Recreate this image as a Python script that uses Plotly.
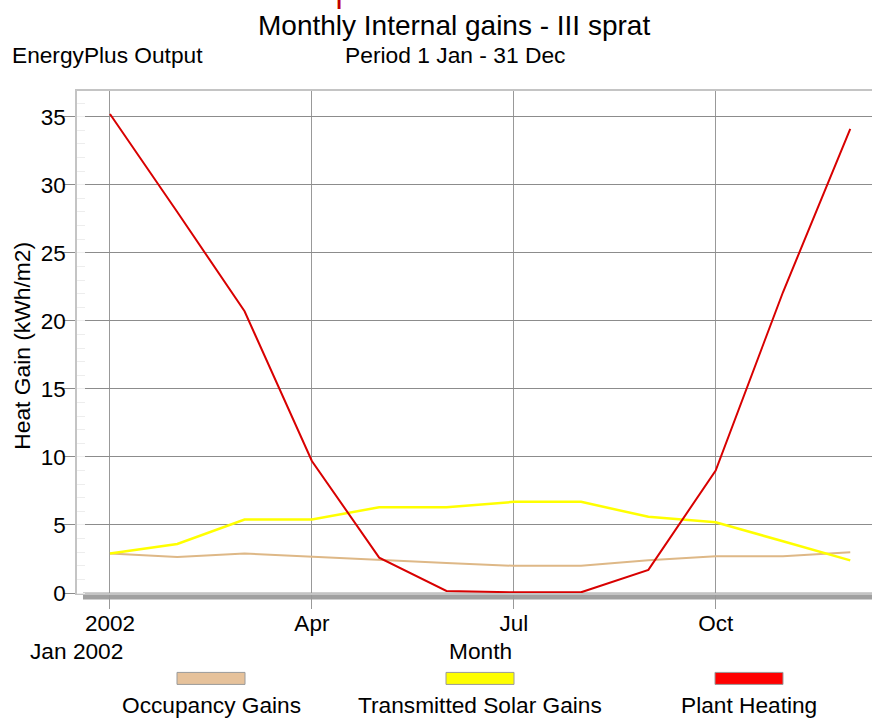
import plotly.graph_objects as go

# ---- data ----
months = ["Jan", "Feb", "Mar", "Apr", "May", "Jun", "Jul", "Aug", "Sep", "Oct", "Nov", "Dec"]
tick_months = ["Jan", "Apr", "Jul", "Oct"]
tick_labels = ["2002", "Apr", "Jul", "Oct"]
series_names = ["Occupancy Gains", "Transmitted Solar Gains", "Plant Heating"]
occupancy = [2.9, 2.65, 2.9, 2.65, 2.4, 2.2, 2.0, 2.0, 2.4, 2.7, 2.7, 3.0]
solar = [2.9, 3.6, 5.4, 5.4, 6.3, 6.3, 6.7, 6.7, 5.6, 5.2, 3.8, 2.4]
heating = [35.2, 28.0, 20.7, 9.7, 2.6, 0.15, 0.05, 0.05, 1.7, 9.0, 22.1, 34.1]

line_colors = ["#DEB887", "#FFFF00", "#D80000"]
legend_colors = ["#E6C29B", "#FFFF00", "#FF0000"]
line_widths = [2, 2.5, 2]

# ---- layout geometry ----
W, H = 872, 719
L, R, T, B = 77, 0, 91, 125.5
PW, PH = W - L - R, H - T - B
FONT = "Liberation Sans, Arial, sans-serif"


def px(x):
    return (x - L) / PW


def py(y):
    return (H - B - y) / PH


fig = go.Figure()
for name, vals, col, lw in zip(series_names, [occupancy, solar, heating], line_colors, line_widths):
    fig.add_trace(go.Scatter(x=months, y=vals, mode="lines", name=name,
                             line=dict(color=col, width=lw), showlegend=False))

annotations = [
    dict(text="Monthly Internal gains - III sprat", x=px(454), y=py(25), font=dict(size=28)),
    dict(text="EnergyPlus Output", x=px(10), y=py(55), xanchor="left", font=dict(size=22.7)),
    dict(text="Period 1 Jan - 31 Dec", x=px(343), y=py(55), xanchor="left", font=dict(size=22.8)),
    dict(text="Heat Gain (kWh/m2)", x=px(22), y=py(346), textangle=-90, font=dict(size=22.8)),
    dict(text="Jan 2002", x=px(76), y=py(652), font=dict(size=22.7)),
    dict(text="Month", x=px(480), y=py(652), font=dict(size=22.7)),
    dict(text="<b>|</b>", x=px(339), y=py(11), yanchor="bottom", font=dict(size=22, color="#C00000")),
]
legend_centers = [211, 480, 749]
shapes = [
    # grey floor bar under the plot
    dict(type="rect", xref="paper", yref="paper", x0=px(83), x1=1.0, y0=py(600), y1=py(593),
         fillcolor="#A0A0A0", line=dict(width=0), layer="below"),
]
for name, col, cx in zip(series_names, legend_colors, legend_centers):
    shapes.append(dict(type="rect", xref="paper", yref="paper", x0=px(cx - 34), x1=px(cx + 34),
                       y0=py(685), y1=py(673), fillcolor=col, line=dict(color="#9A9A9A", width=1)))
    annotations.append(dict(text=name, x=px(cx), y=py(706), font=dict(size=22.7)))

for a in annotations:
    a.setdefault("xref", "paper")
    a.setdefault("yref", "paper")
    a.setdefault("showarrow", False)
    a.setdefault("xanchor", "center")
    a.setdefault("yanchor", "middle")
    a["font"].setdefault("color", "#000000")
    a["font"]["family"] = FONT

fig.update_layout(
    width=W, height=H,
    margin=dict(l=L, r=R, t=T, b=B, pad=0),
    paper_bgcolor="white", plot_bgcolor="white",
    font=dict(family=FONT, size=22, color="black"),
    annotations=annotations, shapes=shapes,
    xaxis=dict(type="category", categoryorder="array", categoryarray=months,
               range=[-0.49, 11.323], tickvals=tick_months, ticktext=tick_labels,
               showgrid=True, gridcolor="#999999", gridwidth=1.2,
               ticks="outside", ticklen=14, tickcolor="#999999", tickwidth=1.2,
               ticklabelstandoff=-5,
               showline=True, mirror=True, linecolor="#C4C4C4", linewidth=1.5,
               tickfont=dict(size=22.5), zeroline=False),
    yaxis=dict(range=[0, 36.89], tickvals=[0, 5, 10, 15, 20, 25, 30, 35],
               showgrid=True, gridcolor="#8C8C8C", gridwidth=1,
               ticks="outside", ticklen=12, tickcolor="#8C8C8C",
               ticklabelstandoff=-7,
               minor=dict(dtick=1, ticks="inside", ticklen=8, tickcolor="#EDEDED", showgrid=False),
               showline=True, linecolor="#C4C4C4", linewidth=1.5,
               tickfont=dict(size=22.5), zeroline=False),
)

fig.write_html("out.html", config={"displayModeBar": False},
               post_script="document.body.style.margin='0px';")
